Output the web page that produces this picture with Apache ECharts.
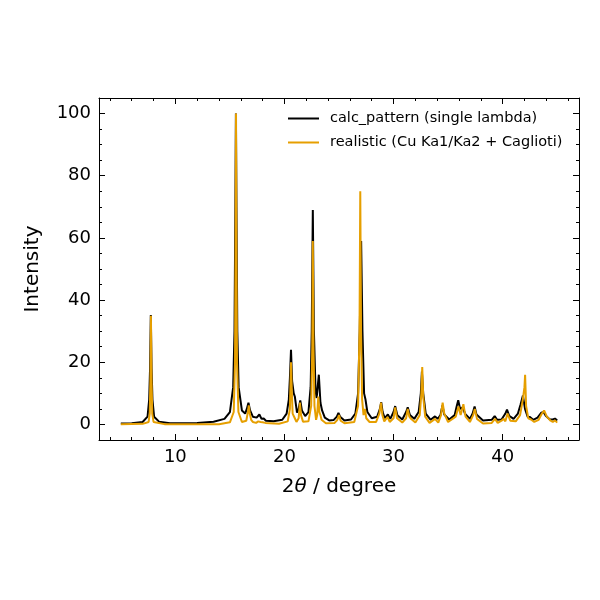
<!DOCTYPE html>
<html>
<head>
<meta charset="utf-8">
<script src="https://cdn.jsdelivr.net/npm/echarts@6/dist/echarts.min.js"></script>
<style>
    html, body { margin: 0; padding: 0; background: #ffffff; }
    #center { width: 600px; height: 600px; }
</style>
</head>
<body>
<div id="center"></div>
<script>
// peak profiles, [2theta, intensity]
var calcPattern = [
    [5, 0.3], [6, 0.4], [7, 0.8], [7.45, 2.5], [7.6, 8], [7.68, 18], [7.75, 35.2], [7.82, 18], [7.9, 8],
    [8.05, 2.5], [8.5, 0.9], [9.5, 0.4], [12, 0.5], [13.5, 0.9], [14.5, 1.8], [15.0, 4], [15.3, 12],
    [15.42, 30], [15.5, 70], [15.55, 100], [15.6, 70], [15.68, 30], [15.8, 12], [16.1, 4.5], [16.4, 3.5],
    [16.55, 5], [16.7, 7], [16.85, 4.5], [17.1, 2.5], [17.45, 2.2], [17.7, 3.2], [17.9, 1.8], [18.1, 1.9],
    [18.3, 1.2], [19, 1], [19.8, 1.5], [20.2, 3.5], [20.4, 8], [20.5, 15], [20.6, 24], [20.7, 14],
    [20.85, 10], [20.95, 9], [21.15, 3.8], [21.3, 5], [21.45, 7.7], [21.6, 4.5], [21.9, 2.7], [22.2, 4],
    [22.4, 12], [22.5, 30], [22.6, 69], [22.7, 30], [22.85, 11], [22.95, 8.5], [23.07, 13], [23.15, 16],
    [23.3, 7], [23.45, 4.5], [23.7, 2.2], [24.1, 1.3], [24.5, 1.4], [24.8, 2.5], [24.95, 3.7], [25.1, 2.5],
    [25.5, 1.3], [26.1, 1.6], [26.5, 3.5], [26.75, 10], [26.9, 30], [27.03, 59], [27.15, 30], [27.3, 10],
    [27.43, 8], [27.6, 4], [28, 2], [28.5, 2.5], [28.75, 5], [28.87, 7.2], [29.0, 4], [29.2, 2],
    [29.48, 3.2], [29.7, 1.8], [30.0, 4], [30.15, 5.9], [30.35, 3], [30.8, 1.6], [31.15, 4], [31.3, 5.5],
    [31.5, 3], [31.9, 1.8], [32.3, 4], [32.5, 10], [32.6, 17], [32.72, 10], [32.95, 3.5], [33.4, 1.5],
    [33.8, 2.6], [34.05, 1.8], [34.3, 3], [34.48, 6.1], [34.65, 3.2], [35.1, 1.6], [35.6, 3], [35.8, 6],
    [35.93, 7.8], [36.1, 5], [36.35, 5.5], [36.55, 3.5], [37.0, 1.8], [37.25, 3.5], [37.43, 5.8],
    [37.6, 3.2], [38.2, 1.3], [39.0, 1.5], [39.27, 2.7], [39.5, 1.5], [39.9, 1.6], [40.25, 3.5],
    [40.4, 4.8], [40.6, 2.8], [41.0, 1.8], [41.4, 3.5], [41.65, 6.5], [41.86, 9.3], [42.05, 5],
    [42.3, 2.4], [42.5, 2.4], [42.8, 1.5], [43.2, 2.2], [43.55, 3.8], [43.75, 4], [43.95, 2.8],
    [44.3, 1.7], [44.6, 1.6], [44.8, 1.9], [45, 1.3]
];
var realisticPattern = [
    [5, 0.1], [7, 0.2], [7.55, 0.8], [7.65, 3.5], [7.71, 14], [7.76, 35], [7.82, 14], [7.88, 3.5],
    [8.0, 0.8], [9, 0.1], [14, 0.1], [15.0, 0.7], [15.35, 4], [15.47, 20], [15.52, 60], [15.56, 100],
    [15.6, 60], [15.65, 20], [15.78, 4], [16.1, 0.8], [16.5, 1.2], [16.65, 4], [16.73, 6.1], [16.82, 3.5],
    [16.95, 1.5], [17.1, 0.8], [17.4, 0.5], [17.6, 1.0], [17.7, 1.6], [17.8, 0.8], [18.0, 0.7],
    [18.1, 1.3], [18.25, 0.5], [19.5, 0.2], [20.3, 1], [20.5, 5], [20.6, 20], [20.68, 10], [20.75, 3.5],
    [20.85, 4], [20.95, 2], [21.1, 0.8], [21.3, 2], [21.42, 7], [21.52, 3], [21.7, 0.9], [22.2, 1],
    [22.45, 6], [22.55, 25], [22.6, 59], [22.66, 25], [22.75, 6], [22.9, 1.5], [23.0, 3], [23.1, 9],
    [23.2, 4], [23.3, 3], [23.4, 1.5], [23.8, 0.4], [24.6, 0.5], [24.85, 1.5], [25.0, 3], [25.15, 1.2],
    [25.5, 0.4], [26.4, 0.8], [26.75, 6], [26.88, 30], [26.95, 75], [27.02, 30], [27.12, 8], [27.25, 3],
    [27.38, 5], [27.5, 2], [27.8, 0.8], [28.4, 0.8], [28.7, 3.5], [28.85, 7], [28.98, 3], [29.15, 1],
    [29.45, 2.4], [29.65, 0.8], [30.0, 2], [30.15, 5.5], [30.32, 2], [30.8, 0.6], [31.15, 2], [31.3, 5],
    [31.45, 2.5], [31.6, 1.8], [32.0, 0.6], [32.4, 3], [32.55, 10], [32.63, 18.5], [32.72, 9],
    [32.9, 2.5], [33.3, 0.5], [33.8, 1.8], [34.1, 0.6], [34.35, 3], [34.5, 7], [34.65, 3.5], [35.0, 0.8],
    [35.7, 2.5], [35.95, 5.8], [36.15, 3], [36.4, 6.5], [36.6, 2.5], [37.0, 0.8], [37.3, 3], [37.45, 5],
    [37.65, 1.8], [38.2, 0.3], [39.0, 0.5], [39.3, 1.8], [39.55, 0.5], [39.9, 1.2], [40.1, 1.8],
    [40.25, 1], [40.45, 3.5], [40.7, 1.2], [41.2, 1], [41.6, 3], [41.85, 8], [42.0, 12], [42.06, 16],
    [42.15, 6], [42.35, 2], [42.6, 1.6], [42.9, 0.8], [43.3, 1.5], [43.6, 3.5], [43.8, 4.5], [44.05, 2.5],
    [44.4, 1.2], [44.6, 0.8], [44.8, 1.3], [45, 0.6]
];
var seriesNames = ['calc_pattern (single lambda)', 'realistic (Cu Ka1/Ka2 + Caglioti)'];
var xMajor = [10, 20, 30, 40];
var xMinor = [4, 6, 8, 12, 14, 16, 18, 22, 24, 26, 28, 32, 34, 36, 38, 42, 44, 46];
var yMajor = [0, 20, 40, 60, 80, 100];
var yMinor = [5, 10, 15, 25, 30, 35, 45, 50, 55, 65, 70, 75, 85, 90, 95];

var font = 'DejaVu Sans';

function tickAxis(pos, ticks, len, withLine, withLabel) {
    return {
        type: 'value',
        position: pos,
        axisLine: { show: withLine, onZero: false, lineStyle: { color: '#000', width: 1 } },
        axisTick: { show: true, inside: true, length: len, customValues: ticks, lineStyle: { color: '#000', width: 1 } },
        axisLabel: { show: withLabel, customValues: ticks, color: '#000', fontFamily: font, fontSize: 18, margin: 8 },
        splitLine: { show: false }
    };
}

var xAxes = [
    tickAxis('bottom', xMajor, 6, true, true),
    tickAxis('bottom', xMinor, 3, false, false),
    tickAxis('top', xMajor, 6, true, false),
    tickAxis('top', xMinor, 3, false, false)
];
xAxes.forEach(function (a) { a.min = 3; a.max = 47; });
xAxes[0].name = '{n|2}{i|θ}{n| / degree}';
xAxes[0].nameLocation = 'middle';
xAxes[0].nameGap = 37;
xAxes[0].nameTextStyle = {
    rich: {
        n: { fontFamily: font, fontSize: 20, color: '#000' },
        i: { fontFamily: font, fontSize: 20, fontStyle: 'italic', color: '#000' }
    }
};

var yAxes = [
    tickAxis('left', yMajor, 6, true, true),
    tickAxis('left', yMinor, 3, false, false),
    tickAxis('right', yMajor, 6, true, false),
    tickAxis('right', yMinor, 3, false, false)
];
yAxes.forEach(function (a) { a.min = -5; a.max = 105; });
yAxes[0].name = 'Intensity';
yAxes[0].nameLocation = 'middle';
yAxes[0].nameGap = 56;
yAxes[0].nameTextStyle = { fontFamily: font, fontSize: 20, color: '#000' };

var myChart = echarts.init(document.getElementById('center'));
var option = {
    backgroundColor: '#ffffff',
    animation: false,
    grid: { left: 99, top: 98, width: 480, height: 342 },
    legend: {
        orient: 'vertical',
        left: 283,
        top: 106,
        icon: 'rect',
        itemWidth: 31,
        itemHeight: 2,
        itemGap: 9,
        data: seriesNames,
        textStyle: { color: '#000', fontFamily: font, fontSize: 14.5, padding: [0, 0, 0, 6] }
    },
    xAxis: xAxes,
    yAxis: yAxes,
    series: [{
        name: seriesNames[0],
        type: 'line',
        symbol: 'none',
        data: calcPattern,
        lineStyle: { color: '#000000', width: 2 },
        itemStyle: { color: '#000000' }
    }, {
        name: seriesNames[1],
        type: 'line',
        symbol: 'none',
        data: realisticPattern,
        lineStyle: { color: '#E69F00', width: 2 },
        itemStyle: { color: '#E69F00' }
    }]
};
myChart.setOption(option);
</script>
</body>
</html>
